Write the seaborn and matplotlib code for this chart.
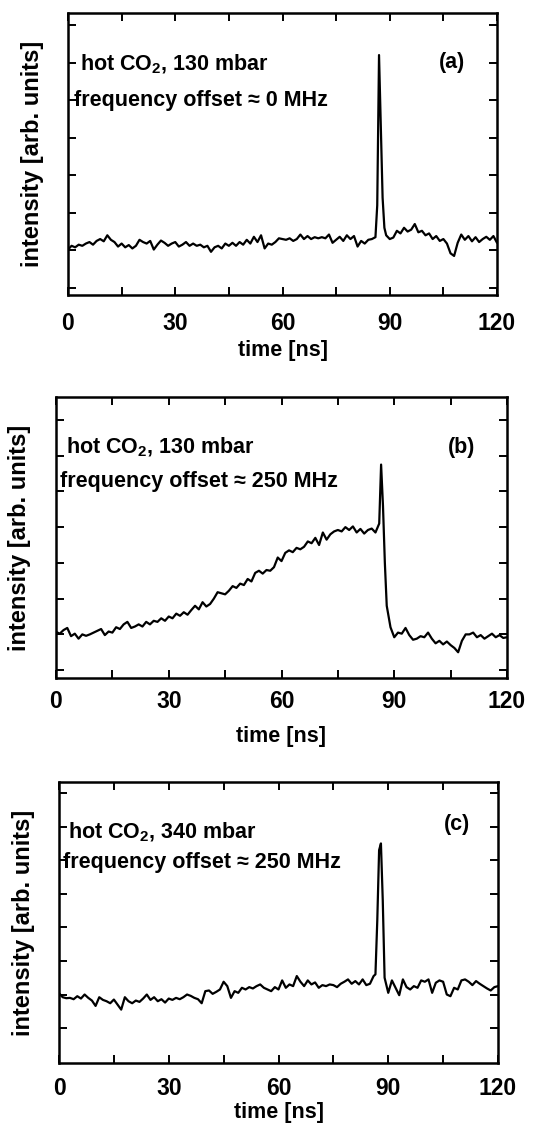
import numpy as np
import pandas as pd
import matplotlib
matplotlib.use("Agg")
import matplotlib.pyplot as plt
import seaborn as sns

# ---------------- data ----------------
time_ns = list(range(0, 86)) + [86, 86.5, 87, 87.5, 88, 88.5, 89] + list(range(90, 121))

intensity_a = [
    1.02, 1.12, 1.08, 1.15, 1.12, 1.18, 1.22, 1.15, 1.25, 1.30,
    1.24, 1.40, 1.28, 1.22, 1.10, 1.18, 1.08, 1.14, 1.05, 1.12,
    1.28, 1.22, 1.18, 1.25, 1.02, 1.15, 1.26, 1.20, 1.12, 1.18,
    1.22, 1.10, 1.15, 1.22, 1.12, 1.18, 1.12, 1.15, 1.08, 1.12,
    0.96, 1.08, 1.12, 1.05, 1.18, 1.12, 1.20, 1.12, 1.22, 1.15,
    1.28, 1.18, 1.36, 1.22, 1.40, 1.05, 1.18, 1.15, 1.22, 1.32,
    1.30, 1.28, 1.32, 1.25, 1.30, 1.42, 1.30, 1.38, 1.30, 1.35,
    1.32, 1.35, 1.32, 1.42, 1.20, 1.28, 1.36, 1.25, 1.40, 1.30,
    1.38, 1.10, 1.25, 1.18, 1.28, 1.30,
    1.35, 2.20, 6.20, 4.30, 2.40, 1.60, 1.40,
    1.30, 1.34, 1.52, 1.45, 1.60, 1.50, 1.55, 1.70, 1.48, 1.52,
    1.40, 1.45, 1.30, 1.38, 1.25, 1.30, 1.18, 0.92, 0.85, 1.20,
    1.42, 1.28, 1.38, 1.24, 1.35, 1.22, 1.30, 1.36, 1.28, 1.38,
    1.20,
]

intensity_b = [
    1.07, 1.02, 1.12, 1.18, 0.95, 1.02, 0.88, 1.00, 0.96, 1.00,
    1.05, 1.10, 1.15, 0.98, 1.08, 1.05, 1.20, 1.15, 1.28, 1.35,
    1.18, 1.22, 1.28, 1.22, 1.35, 1.28, 1.38, 1.35, 1.45, 1.38,
    1.50, 1.45, 1.58, 1.52, 1.62, 1.55, 1.68, 1.80, 1.70, 1.90,
    1.78, 1.85, 2.00, 2.18, 2.15, 2.12, 2.22, 2.35, 2.30, 2.42,
    2.38, 2.55, 2.48, 2.72, 2.78, 2.70, 2.80, 2.78, 2.88, 3.15,
    3.05, 3.28, 3.35, 3.30, 3.42, 3.38, 3.45, 3.60, 3.55, 3.70,
    3.50, 3.85, 3.65, 3.80, 3.88, 3.92, 3.88, 4.00, 3.92, 4.02,
    3.85, 3.95, 3.82, 3.92, 3.96, 3.85,
    4.10, 5.75, 4.60, 3.00, 1.80, 1.50, 1.20,
    0.92, 1.05, 1.02, 1.18, 0.98, 0.85, 0.88, 0.95, 0.92, 1.05,
    0.88, 0.75, 0.82, 0.72, 0.80, 0.70, 0.62, 0.50, 0.82, 1.00,
    1.00, 1.05, 0.92, 0.98, 0.88, 0.95, 1.02, 0.92, 0.98, 0.90,
    0.92,
]

intensity_c = [
    1.04, 0.92, 0.89, 0.90, 0.86, 0.95, 0.88, 1.00, 0.90, 0.82,
    0.66, 0.92, 0.84, 0.80, 0.74, 0.85, 0.70, 0.55, 0.92, 0.80,
    0.74, 0.82, 0.78, 0.88, 1.00, 0.84, 0.92, 0.80, 0.86, 0.76,
    0.88, 0.84, 0.90, 0.86, 0.92, 1.00, 0.96, 0.90, 0.86, 0.74,
    1.10, 1.12, 1.02, 1.08, 1.15, 1.38, 1.25, 0.90, 1.10, 1.05,
    1.20, 1.15, 1.22, 1.18, 1.25, 1.30, 1.20, 1.15, 1.10, 1.22,
    1.15, 1.42, 1.20, 1.30, 1.25, 1.55, 1.38, 1.25, 1.42, 1.30,
    1.36, 1.20, 1.28, 1.25, 1.30, 1.28, 1.22, 1.32, 1.38, 1.45,
    1.32, 1.40, 1.30, 1.45, 1.28, 1.32,
    1.55, 1.60, 3.20, 5.30, 5.50, 3.80, 1.50,
    1.05, 1.42, 1.20, 0.98, 1.45, 1.22, 1.15, 1.25, 1.20, 1.42,
    1.38, 1.45, 1.05, 1.35, 1.42, 1.38, 1.00, 0.95, 1.20, 1.15,
    1.42, 1.45, 1.38, 1.28, 1.40, 1.32, 1.25, 1.18, 1.12, 1.22,
    1.25,
]

panel_tags = ["(a)", "(b)", "(c)"]
pressure_labels = ["hot CO$_{\\mathbf{2}}$, 130 mbar", "hot CO$_{\\mathbf{2}}$, 130 mbar",
                   "hot CO$_{\\mathbf{2}}$, 340 mbar"]
offset_labels = ["frequency offset \u2248 0 MHz", "frequency offset \u2248 250 MHz",
                 "frequency offset \u2248 250 MHz"]
x_ticks = [0, 15, 30, 45, 60, 75, 90, 105, 120]
x_tick_labels = ["0", "", "30", "", "60", "", "90", "", "120"]
y_ticks = [0, 1, 2, 3, 4, 5, 6, 7]

# ---------------- style ----------------
sns.set_theme(style="ticks")
plt.rcParams["font.family"] = ["Liberation Sans", "DejaVu Sans"]
plt.rcParams["font.weight"] = "bold"
plt.rcParams["text.color"] = "black"
plt.rcParams["axes.labelcolor"] = "black"
plt.rcParams["xtick.color"] = "black"
plt.rcParams["ytick.color"] = "black"
plt.rcParams["mathtext.fontset"] = "custom"
plt.rcParams["mathtext.rm"] = "Liberation Sans:bold"
plt.rcParams["mathtext.bf"] = "Liberation Sans:bold"
plt.rcParams["mathtext.default"] = "bf"

fig = plt.figure(figsize=(5.53, 11.25), dpi=100)
W, H = 553.0, 1125.0

# axes boxes in pixels: left, top, right, bottom
boxes = [(68, 13, 497, 295), (56, 397, 507, 678), (59, 782, 498, 1063)]
ylims = [(-0.19, 7.32), (-0.22, 7.64), (-1.04, 7.33)]
text_pos = [
    # (hot x, hot y, freq x, freq y, tag x, tag y) in axes fraction
    (0.028, 0.816, 0.014, 0.691, 0.895, 0.823),
    (0.022, 0.822, 0.009, 0.698, 0.900, 0.822),
    (0.021, 0.822, 0.009, 0.712, 0.907, 0.847),
]
tick_pads = [12, 9, 10]
xlabel_pads = [3.5, 9, 1.5]
ylabel_x = [-0.0816, -0.082, -0.082]

series = [intensity_a, intensity_b, intensity_c]

for i in range(3):
    l, t, r, b = boxes[i]
    ax = fig.add_axes([l / W, 1 - b / H, (r - l) / W, (b - t) / H])
    df = pd.DataFrame({"time": time_ns, "intensity": series[i]})
    sns.lineplot(data=df, x="time", y="intensity", ax=ax, color="black",
                 linewidth=1.6, estimator=None, sort=False)
    ax.set_xlim(0, 120)
    ax.set_ylim(*ylims[i])
    ax.set_xticks(x_ticks)
    ax.set_xticklabels(x_tick_labels, fontsize=16.5, fontweight="bold")
    ax.set_yticks(y_ticks)
    ax.set_yticklabels([])
    ax.tick_params(axis="both", direction="in", length=6, width=1.4,
                   top=True, right=True, color="black")
    ax.tick_params(axis="x", pad=tick_pads[i])
    for sp in ax.spines.values():
        sp.set_linewidth(1.8)
        sp.set_color("black")
    ax.set_xlabel("time [ns]", fontsize=15.5, fontweight="bold", labelpad=xlabel_pads[i])
    ax.set_ylabel("intensity [arb. units]", fontsize=17, fontweight="bold")
    ax.yaxis.label.set_va("center")
    ax.yaxis.set_label_coords(ylabel_x[i], 0.5)

    hx, hy, fx, fy, tx, ty = text_pos[i]
    ax.text(hx, hy, pressure_labels[i], transform=ax.transAxes, fontsize=15.5,
            fontweight="bold", ha="left", va="center")
    ax.text(fx, fy, offset_labels[i], transform=ax.transAxes, fontsize=15.5,
            fontweight="bold", ha="left", va="center")
    ax.text(tx, ty, panel_tags[i], transform=ax.transAxes, fontsize=15.5,
            fontweight="bold", ha="center", va="center")

fig.savefig("out.png", dpi=100, facecolor="white")
